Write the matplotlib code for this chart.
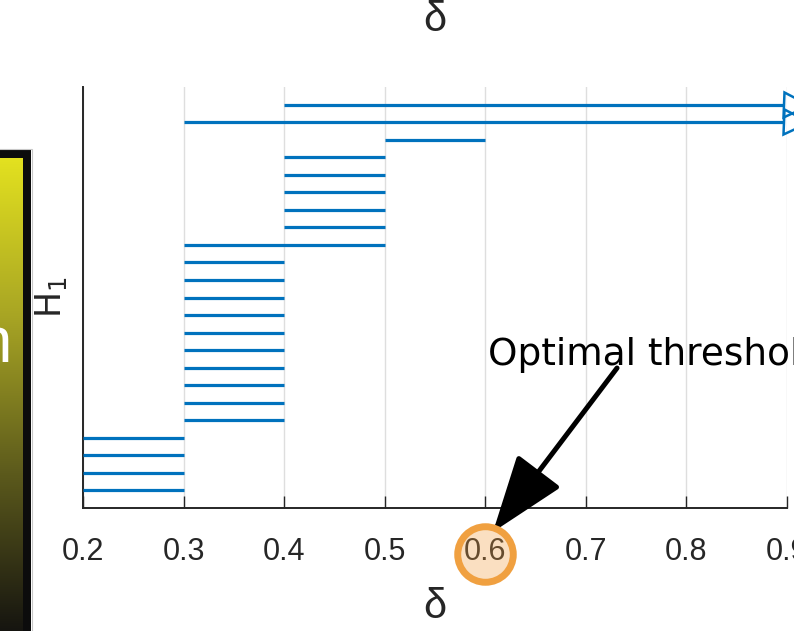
import numpy as np
import matplotlib
matplotlib.use("Agg")
import matplotlib.pyplot as plt
from matplotlib.colors import LinearSegmentedColormap
from matplotlib.patches import Rectangle
import matplotlib.transforms as mtransforms
from matplotlib import font_manager

# H1 barcode intervals, bottom to top (np.inf = still alive at the last threshold)
births = [0.2, 0.2, 0.2, 0.2,
          0.3, 0.3, 0.3, 0.3, 0.3, 0.3, 0.3, 0.3, 0.3, 0.3,
          0.3,
          0.4, 0.4, 0.4, 0.4, 0.4,
          0.5,
          0.3, 0.4]
deaths = [0.3, 0.3, 0.3, 0.3,
          0.4, 0.4, 0.4, 0.4, 0.4, 0.4, 0.4, 0.4, 0.4, 0.4,
          0.5,
          0.5, 0.5, 0.5, 0.5, 0.5,
          0.6,
          np.inf, np.inf]
xticks = [0.2, 0.3, 0.4, 0.5, 0.6, 0.7, 0.8, 0.9]
x_max = 0.9
optimal = 0.6

# narrow font for the axis texts if there is one
names = {f.name for f in font_manager.fontManager.ttflist}
narrow = [n for n in ["Liberation Sans Narrow", "DejaVu Sans Condensed", "Liberation Sans"] if n in names]
narrow = narrow[:1] + ["DejaVu Sans"]

W, H = 794, 631
fig = plt.figure(figsize=(W / 100, H / 100), dpi=100)
fig.patch.set_facecolor("white")

# piece of a colorbar on the far left
cax = fig.add_axes([0, 0, 23 / W, (H - 158) / H])
cmap = LinearSegmentedColormap.from_list("yb", ["#161510", "#5c5a1c", "#a8a524", "#e3e11f"])
cax.imshow(np.linspace(0, 1, 256)[:, None], aspect="auto", cmap=cmap, origin="lower", extent=[0, 1, 0, 1])
cax.set_axis_off()
fig.patches.append(Rectangle((-20, -20), 47, H - 153.5 + 20, transform=None, fill=False,
                             edgecolor="#0c0c0c", linewidth=8 * 0.72))
fig.patches.append(Rectangle((-20, -20), 51.5, H - 149 + 20, transform=None, fill=False,
                             edgecolor="#c8c8c8", linewidth=0.8))
fig.text(12 / W, (H - 362) / H, "h", color="white", fontsize=46, ha="right", va="baseline",
         family=narrow)

ax = fig.add_axes([83 / W, (H - 508) / H, 704 / W, 421 / H])
ax.set_xlim(0.2, x_max)
ax.set_ylim(0, len(births) + 1)

blue = "#0072bd"
for i, (b, d) in enumerate(zip(births, deaths)):
    y = i + 1
    if np.isinf(d):
        ax.plot([b, x_max - 0.004], [y, y], color=blue, lw=2.3, solid_capstyle="butt", zorder=3)
        ax.plot([x_max + 0.009], [y], marker=">", ms=18, mfc="none", mec=blue, mew=1.8,
                clip_on=False, zorder=3)
    else:
        ax.plot([b, d], [y, y], color=blue, lw=2.3, solid_capstyle="butt", zorder=3)

ax.set_xticks(xticks)
ax.set_xticklabels([f"{t:.1f}" for t in xticks])
ax.set_yticks([])
ax.grid(axis="x", color="#dedede", lw=1)
ax.set_axisbelow(True)
for s in ["top", "right"]:
    ax.spines[s].set_visible(False)
for s in ["left", "bottom"]:
    ax.spines[s].set_color("#262626")
    ax.spines[s].set_linewidth(1.4)
ax.tick_params(axis="x", direction="in", length=8.5, width=1, color="#262626", pad=21,
               labelsize=22, labelcolor="#262626")
for lab in ax.get_xticklabels():
    lab.set_family(narrow)

ax.set_xlabel("δ", fontsize=30, family=narrow, color="#262626", labelpad=14)
ax.set_title("δ", fontsize=30, family=narrow, color="#262626", pad=40)
ax.set_ylabel("H$_1$", fontsize=25, color="#262626", labelpad=10)

# highlight of the optimal threshold tick
tr = mtransforms.blended_transform_factory(ax.transData, ax.transAxes)
ax.plot([optimal], [-0.109], marker="o", ms=40, mfc=(0.94, 0.62, 0.25, 0.32), mec="#f0a040",
        mew=5, transform=tr, clip_on=False, zorder=5)

ax.text(0.6026, 0.34, "Optimal threshold", fontsize=27, color="black", va="baseline",
        ha="left", transform=tr, clip_on=False)
ax.annotate("", xy=(0.6076, -0.057), xycoords=tr, xytext=(0.731, 0.3325), textcoords=tr,
            annotation_clip=False,
            arrowprops=dict(arrowstyle="-|>,head_length=4.8,head_width=1.7", mutation_scale=10,
                            lw=3.6, color="black", shrinkA=0, shrinkB=0))

fig.savefig("out.png", dpi=100)
